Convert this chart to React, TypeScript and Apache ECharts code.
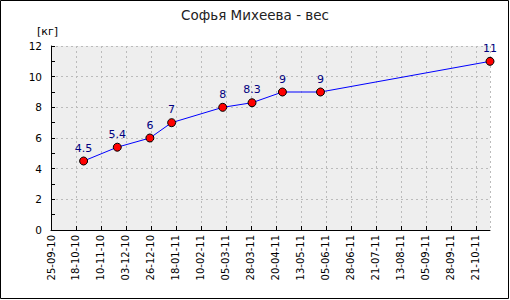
import React, { useEffect, useRef } from "react";
import * as echarts from "echarts";

const titleText = "Софья Михеева - вес";
const unitText = "[кг]";
const startDate = "2010-09-25";
const endDate = "2011-11-03";
const tickStepDays = 23;
const dates = [
  "2010-10-25",
  "2010-11-25",
  "2010-12-25",
  "2011-01-14",
  "2011-03-02",
  "2011-03-29",
  "2011-04-26",
  "2011-05-31",
  "2011-11-03",
];
const weights = [4.5, 5.4, 6, 7, 8, 8.3, 9, 9, 11];

const DAY = 86400000;
const toMs = (s: string) => {
  const [y, m, d] = s.split("-").map(Number);
  return Date.UTC(y, m - 1, d);
};
const dayOffset = (s: string) => Math.round((toMs(s) - toMs(startDate)) / DAY);
const fmt = (off: number) => {
  const d = new Date(toMs(startDate) + off * DAY);
  const p = (n: number) => String(n).padStart(2, "0");
  return `${p(d.getUTCDate())}-${p(d.getUTCMonth() + 1)}-${p(d.getUTCFullYear() % 100)}`;
};

export default function App() {
  const ref = useRef<HTMLDivElement>(null);
  useEffect(() => {
    if (!ref.current) return;
    const chart = echarts.init(ref.current, null, { renderer: "svg" });
    const font = "DejaVu Sans";
    chart.setOption({
      animation: false,
      backgroundColor: "#ffffff",
      textStyle: { fontFamily: font },
      title: {
        text: titleText,
        left: "center",
        top: 3,
        textStyle: { fontFamily: font, fontSize: 13.5, fontWeight: "normal", color: "#222" },
      },
      graphic: [
        {
          type: "rect",
          shape: { x: 0.5, y: 0.5, width: 508, height: 298 },
          style: { fill: "none", stroke: "#000", lineWidth: 1 },
          silent: true,
        },
        {
          type: "text",
          left: 37,
          top: 26,
          style: { text: unitText, fontFamily: font, fontSize: 11, fill: "#000" },
        },
      ],
      grid: {
        left: 51,
        right: 20,
        top: 46,
        bottom: 70,
        show: true,
        backgroundColor: "#eeeeee",
        borderWidth: 0,
      },
      xAxis: {
        type: "value",
        min: 0,
        max: dayOffset(endDate),
        interval: tickStepDays,
        axisLine: { show: true, onZero: false, lineStyle: { color: "#000", width: 1 } },
        axisTick: { show: true, inside: true, length: 4, lineStyle: { color: "#000" } },
        axisLabel: {
          rotate: 90,
          margin: 5,
          fontFamily: font,
          fontSize: 10,
          color: "#000",
          showMaxLabel: false,
          formatter: (v: number) => fmt(v),
        },
        splitLine: { show: true, lineStyle: { color: "#bbbbbb", type: [2, 3], width: 1 } },
      },
      yAxis: {
        type: "value",
        min: 0,
        max: 12,
        interval: 2,
        axisLine: { show: true, lineStyle: { color: "#000", width: 1 } },
        axisTick: { show: true, inside: true, length: 4, lineStyle: { color: "#000" } },
        minorTick: { show: true, splitNumber: 2, length: 4, lineStyle: { color: "#000" } },
        axisLabel: { margin: 9, fontFamily: font, fontSize: 10.5, color: "#000" },
        splitLine: { show: true, lineStyle: { color: "#bbbbbb", type: [2, 3], width: 1 } },
      },
      series: [
        {
          type: "line",
          data: dates.map((d, i) => [dayOffset(d), weights[i]]),
          symbol: "circle",
          symbolSize: 8,
          lineStyle: { color: "#0000ff", width: 1 },
          itemStyle: { color: "#ff0000", borderColor: "#000", borderWidth: 1 },
          label: {
            show: true,
            position: "top",
            distance: 3,
            fontFamily: font,
            fontSize: 11,
            color: "#000080",
            formatter: (p: any) => String(p.value[1]),
          },
        },
      ],
    });
    return () => chart.dispose();
  }, []);
  return (
    <div
      ref={ref}
      style={{ position: "fixed", left: 0, top: 0, width: 510, height: 300 }}
    />
  );
}
